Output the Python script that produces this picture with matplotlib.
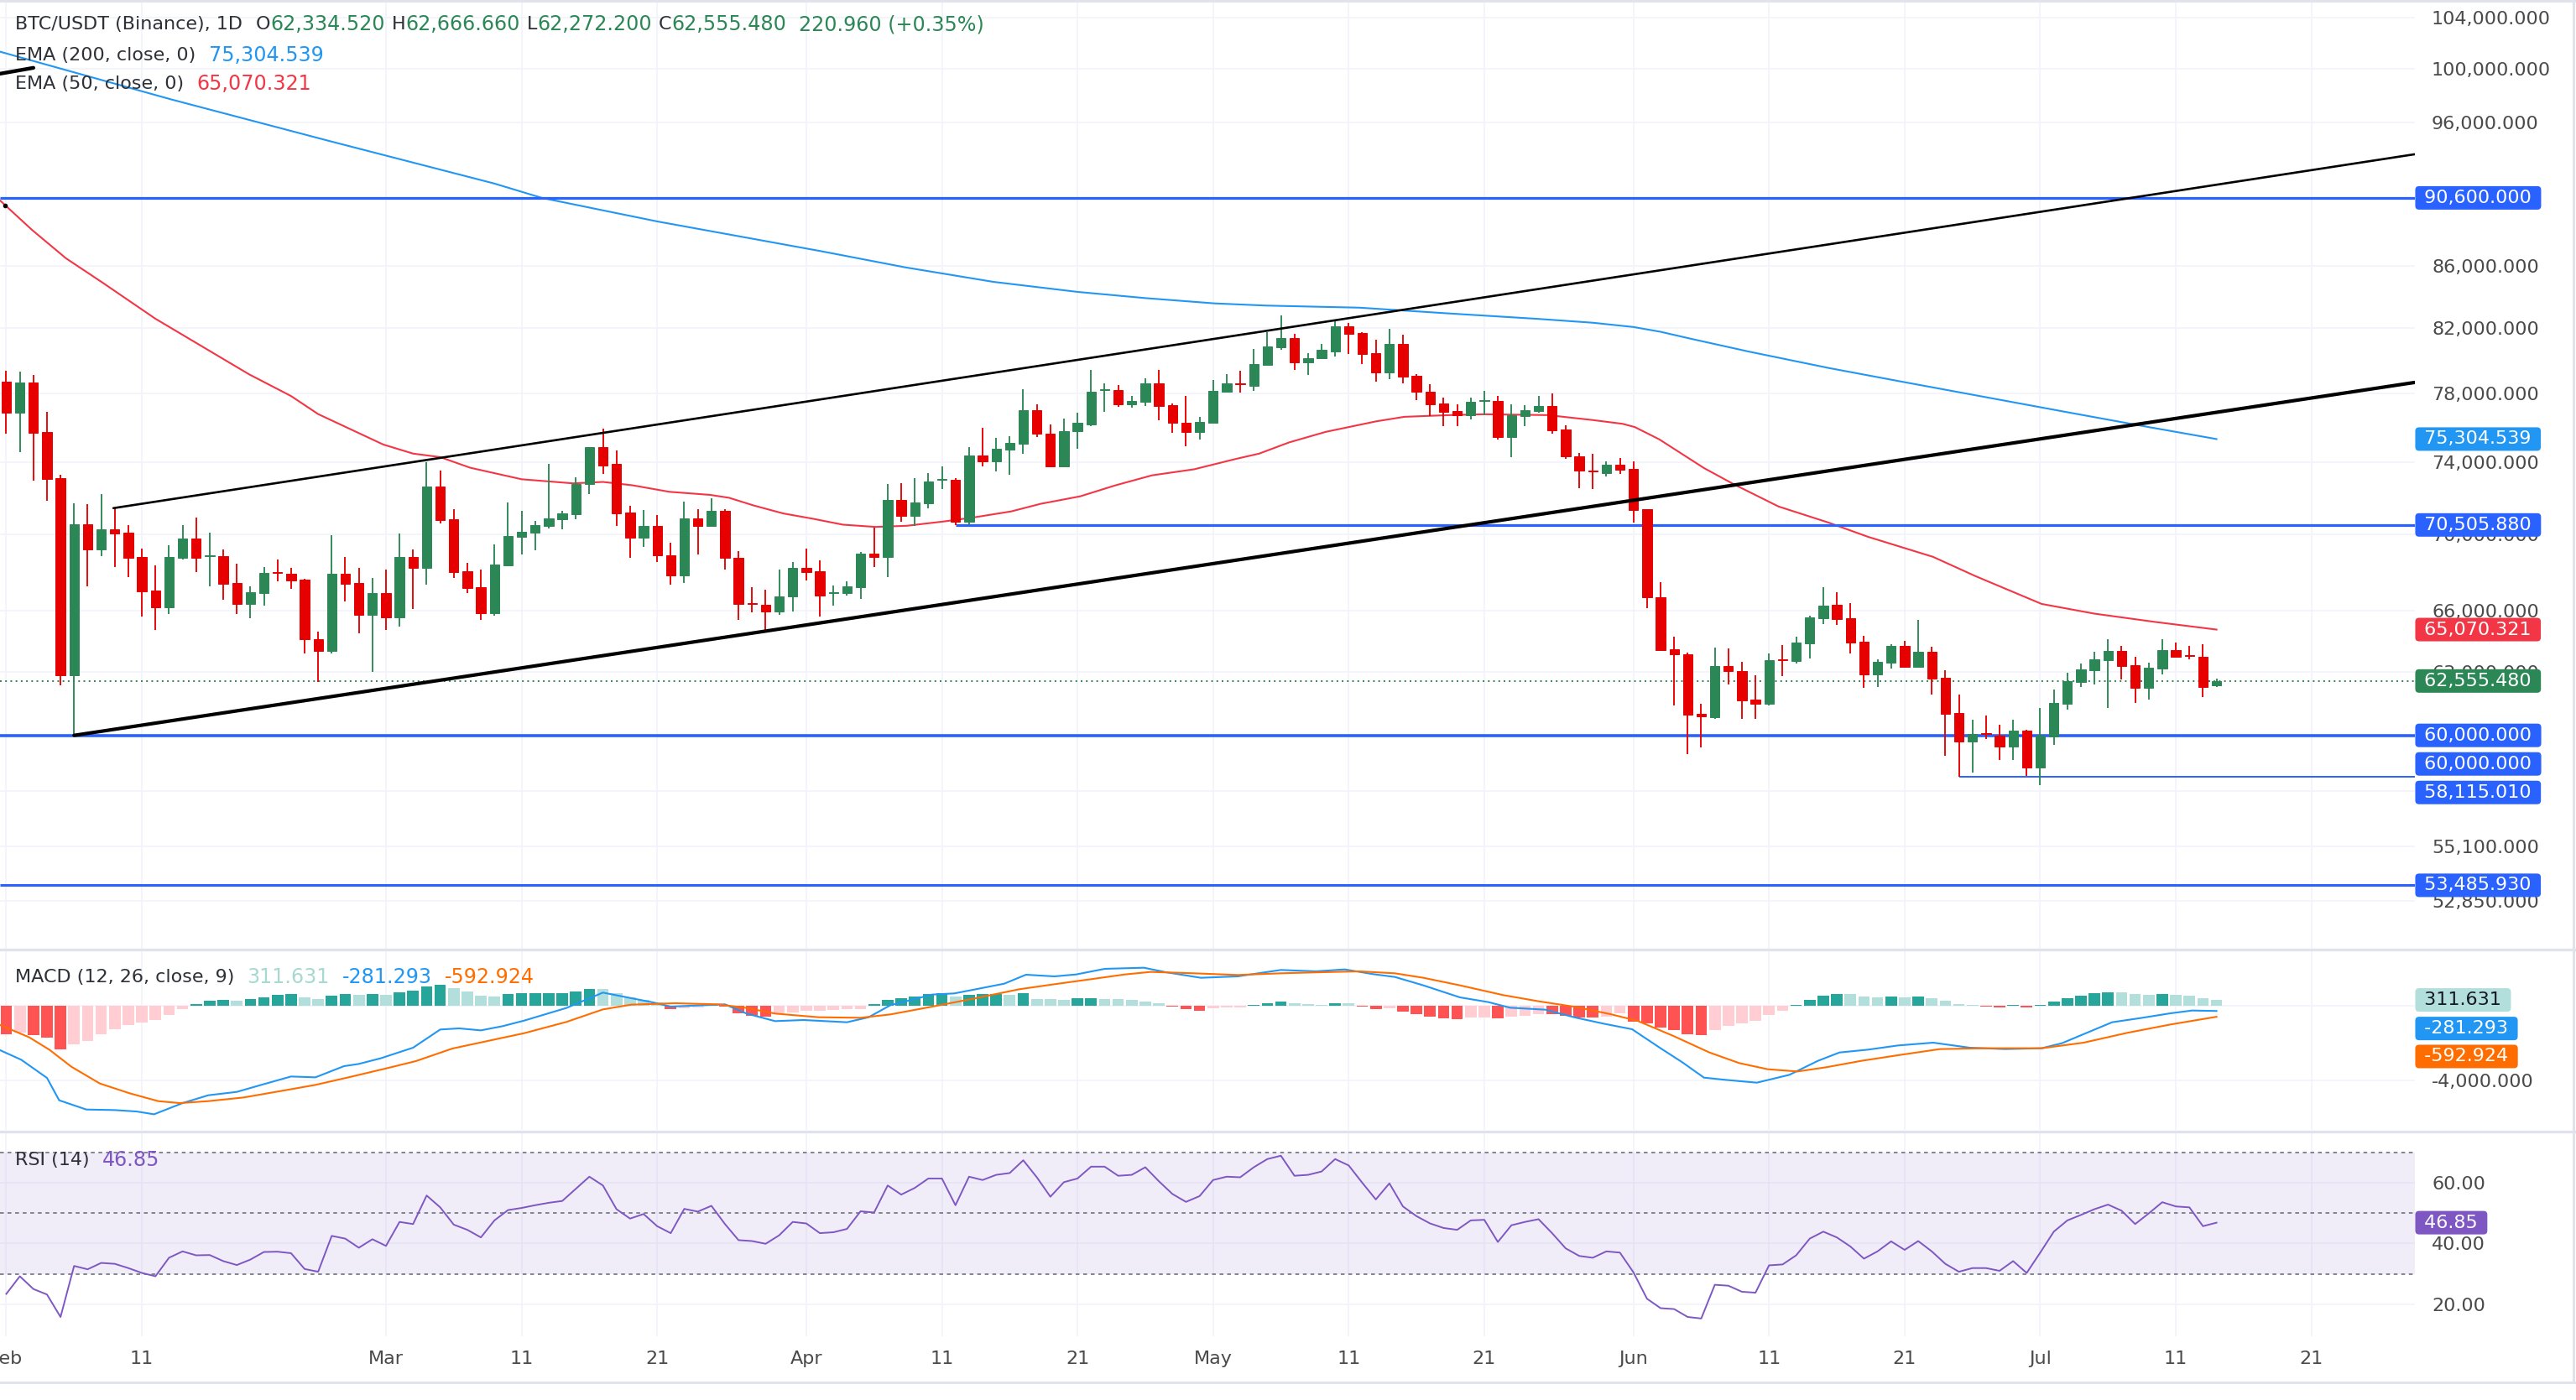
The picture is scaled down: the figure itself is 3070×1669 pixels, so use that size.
import numpy as np
import pandas as pd
import matplotlib
matplotlib.use("Agg")
import matplotlib.pyplot as plt
from matplotlib.lines import Line2D
from matplotlib.ticker import FixedLocator, FixedFormatter, NullFormatter, NullLocator

plt.rcParams['font.family'] = ['DejaVu Sans']

# ---------------- data ----------------
start_date = '2026-02-01'
opens = [78694, 76855, 78640, 75716, 73086, 62835, 70545, 69197, 70271, 70093,
         68801, 67054, 66212, 68754, 69771, 68830, 68848, 67440, 66378, 66931,
         68000, 67922, 67611, 64589, 63999, 67922, 67440, 65788, 66916, 65698,
         68801, 68234, 72616, 70820, 68046, 67223, 65894, 68360, 69883, 70094,
         70464, 70836, 71098, 72734, 74852, 73862, 71164, 69819, 70448, 68864,
         67816, 70869, 70464, 71278, 68738, 66424, 66303, 65970, 66726, 68218,
         68046, 66916, 66916, 67239, 68959, 68785, 71867, 71000, 71703, 72984,
         72984, 70674, 74372, 74032, 74714, 75059, 76997, 75625, 73726, 75747,
         76134, 78190, 78190, 77350, 77508, 78595, 77298, 76239, 75713, 76274,
         78100, 78595, 78455, 79732, 80820, 81378, 79878, 80099, 80560, 82112,
         81676, 80428, 79227, 81006, 79034, 78069, 77398, 76943, 76696, 77548,
         77513, 75423, 76657, 76943, 77226, 75853, 74337, 73518, 73371, 73827,
         73608, 71361, 66690, 64083, 63848, 61003, 60824, 63268, 63020, 61655,
         61459, 63610, 63513, 64400, 65645, 66320, 65643, 64469, 62887, 63444,
         64265, 63251, 63990, 62714, 61040, 59733, 60096, 59990, 59505, 60223,
         58554, 59963, 61487, 62526, 63090, 63577, 64014, 63305, 62243, 63170,
         64056, 63799, 63728, 62334.52]
highs = [79329, 79293, 79093, 76891, 73271, 71670, 71637, 72201, 71409, 70480,
         69245, 68360, 69405, 70497, 70902, 70093, 69197, 68439, 67270, 68266,
         68675, 68203, 67658, 64977, 69964, 68801, 68203, 67705, 68140, 70045,
         69197, 73981, 73506, 71360, 68486, 68124, 69468, 71737, 71278, 70723,
         73862, 71278, 73136, 74852, 75908, 74628, 71556, 71327, 71049, 69548,
         71785, 71360, 71965, 71360, 69100, 67223, 67085, 68156, 68518, 69226,
         68628, 67300, 67531, 69068, 70351, 72734, 72800, 73069, 73354, 73743,
         73069, 74852, 75956, 75369, 75455, 78243, 77332, 76134, 76484, 76822,
         79384, 78595, 78507, 77820, 78880, 79384, 77385, 77820, 76571, 78808,
         79143, 79366, 80708, 81713, 82811, 81639, 80412, 81024, 82433, 82339,
         81713, 81261, 81928, 81564, 79131, 78547, 77739, 77319, 77739, 78124,
         77839, 77319, 77265, 77839, 77969, 76098, 74498, 74460, 74046, 74227,
         74008, 71361, 67482, 64720, 63926, 61486, 64164, 64118, 63493, 62834,
         63881, 64320, 64720, 65758, 67236, 66964, 66406, 64762, 63604, 64343,
         64510, 65558, 64224, 63076, 61913, 60716, 60935, 60495, 60728, 60240,
         61278, 62152, 62955, 63403, 63973, 64594, 64265, 63728, 63444, 64594,
         64427, 64265, 64344, 62666.66]
lows = [75629, 74577, 72918, 71836, 62332, 60000, 67270, 68848, 68250, 67751,
        65743, 65067, 65834, 68675, 67984, 67285, 66593, 65834, 65637, 66257,
        67503, 67146, 63882, 62518, 63882, 66470, 64903, 63007, 65037, 65232,
        66121, 67363, 70593, 67705, 66916, 65561, 65774, 68300, 68943, 69165,
        70335, 70271, 70836, 72201, 73321, 70464, 68754, 69348, 68549, 67346,
        67424, 68911, 70400, 68124, 65546, 65924, 65022, 65818, 65970, 67547,
        65713, 66272, 66772, 66605, 68280, 67738, 70674, 70464, 71393, 72484,
        70506, 70512, 73743, 73456, 73289, 74474, 75403, 73700, 73690, 74766,
        76066, 76900, 77213, 77125, 77262, 76414, 75658, 74904, 75284, 76200,
        78020, 78020, 78136, 79700, 80653, 79401, 79089, 80050, 80228, 80375,
        79786, 78703, 78862, 78608, 77608, 76657, 76040, 76079, 76449, 76696,
        75294, 74246, 76079, 76850, 75628, 74190, 72528, 72477, 73191, 73338,
        70626, 66167, 64000, 61384, 59129, 59448, 60750, 62372, 60750, 60750,
        61400, 62802, 63390, 63660, 65327, 65307, 63906, 62231, 62271, 63170,
        63200, 63200, 61913, 59083, 58115, 58328, 59848, 58894, 58894, 58167,
        57767, 59570, 61212, 62271, 62404, 61290, 62634, 61525, 61684, 62887,
        63700, 63617, 61780, 62272.2]
closes = [76855, 78640, 75681, 73036, 62835, 70545, 69197, 70271, 70045, 68754,
          67008, 66212, 68801, 69771, 68770, 68880, 67409, 66378, 66962, 67969,
          67953, 67580, 64589, 63999, 67922, 67409, 65788, 66916, 65698, 68801,
          68234, 72616, 70787, 68015, 67193, 65894, 68408, 69915, 70142, 70496,
          70869, 71131, 72734, 74852, 73811, 71131, 69835, 70448, 68864, 67816,
          70869, 70464, 71278, 68738, 66348, 66348, 65970, 66726, 68218, 68015,
          66802, 66962, 67270, 68959, 68785, 71867, 71000, 71719, 72901, 73018,
          70674, 74372, 74032, 74748, 75093, 76997, 75625, 73726, 75782, 76239,
          78082, 78225, 77350, 77560, 78595, 77262, 76239, 75713, 76292, 78136,
          78595, 78525, 79768, 80838, 81378, 79878, 80136, 80615, 82112, 81639,
          80375, 79227, 81006, 78993, 78069, 77359, 76884, 76696, 77493, 77588,
          75423, 76696, 76978, 77226, 75814, 74318, 73518, 73460, 73827, 73556,
          71325, 66690, 64045, 63848, 60973, 60882, 63268, 63020, 61640, 61459,
          63570, 63570, 64428, 65678, 66295, 65613, 64440, 62887, 63484, 64265,
          63251, 63990, 62686, 61013, 59722, 60069, 60057, 59505, 60223, 58554,
          59990, 61515, 62554, 63118, 63604, 64014, 63291, 62243, 63198, 64056,
          63741, 63758, 62271, 62555.48]

# EMA lines (day offset from start_date, price)
ema200_day = [-0.46, 12.1, 23.8, 36, 39.5, 48, 60.1, 66.3, 72.8, 79, 84, 89.1, 92.9, 99.8,
              106.4, 113, 117, 120, 122, 124.1, 128.5, 134.4, 140, 146, 152, 158, 163]
ema200_val = [101345, 97722, 94645, 91600, 90600, 88980, 86970, 85900, 84950, 84300, 83900,
              83560, 83420, 83286, 82918, 82571, 82330, 82060, 81760, 81350, 80530, 79522,
              78660, 77760, 76870, 76000, 75304.539]
ema50_day = [-0.46, 1.9, 4.4, 7.1, 11.0, 17.9, 21.0, 23.0, 27.8, 30.0, 32.0, 34.2,
             38, 41.8, 44, 46.2, 48.9, 51.9, 53.3, 55.1, 57.3, 59.5,
             61.7, 64.1, 66.4, 69.2, 71.4, 74.1, 76.3, 79.2, 81.8, 84.5,
             87.6, 90.7, 92.4, 94.6, 97.3, 101, 103.1, 106.4, 109, 113.7,
             117, 119.2, 120.1, 121.9, 125.2, 127.4, 130.7, 134.4, 137.3, 142.1,
             145.2, 150.1, 154, 158.5, 163]
ema50_val = [90420, 88400, 86500, 84900, 82582, 79140, 77830, 76760, 74990, 74470, 74270, 73670,
             73020, 72790, 72870, 72680, 72320, 72150, 71990, 71570, 71130, 70840,
             70520, 70400, 70460, 70700, 70920, 71240, 71660, 72070, 72680, 73240,
             73580, 74170, 74470, 75110, 75720, 76330, 76600, 76700, 76750, 76700,
             76410, 76190, 76000, 75290, 73650, 72740, 71510, 70630, 69867, 68800,
             67800, 66363, 65870, 65450, 65070.321]

# horizontal levels: price, first date (None = whole width)
level_price = [90600.0, 70505.88, 60000.0, 58115.01, 53485.93]
level_from = [None, '2026-04-12', None, '2026-06-25', None]

# trend lines: (day, price) pairs
upper_line_day = [7.9, 177.6]
upper_line_val = [71420, 93680]
lower_line_day = [5.0, 177.6]
lower_line_val = [60000, 78644]
stub_line_day = [-0.46, 2.0]
stub_line_val = [99650, 100100]

last_price = 62555.48

# MACD
macd_hist = [-1519, -1460, -1580, -1700, -2330, -2060, -1880, -1520, -1280, -1020,
             -890, -770, -500, -165, 75, 255, 315, 285, 360, 450,
             600, 630, 450, 375, 540, 615, 600, 630, 585, 735,
             795, 1040, 1130, 950, 750, 520, 510, 615, 680, 685,
             690, 695, 750, 900, 885, 660, 465, 330, 165, -200,
             -120, -90, 100, -60, -420, -530, -570, -420, -345, -285,
             -255, -240, -195, -165, 75, 330, 405, 510, 630, 660,
             510, 600, 630, 640, 600, 690, 360, 355, 315, 420,
             425, 345, 340, 300, 240, 150, -60, -190, -280, -150,
             -110, -70, 45, 150, 225, 135, 90, 45, 150, 135,
             -30, -165, -150, -300, -450, -570, -660, -705, -645, -615,
             -660, -600, -525, -435, -470, -555, -615, -630, -570, -420,
             -870, -930, -1170, -1320, -1515, -1575, -1290, -1065, -945, -795,
             -480, -255, 45, 330, 540, 630, 615, 495, 450, 495,
             450, 495, 405, 270, 90, 45, -45, -90, 45, -90,
             45, 225, 405, 540, 675, 735, 720, 630, 585, 630,
             585, 540, 405, 311.631]
macd_day = [-0.5, 1.1, 3, 3.9, 5.9, 8, 9.6, 10.9, 13, 14.9, 17, 18.8, 21, 22.8, 24.9, 26,
            27.6, 30, 32, 33.4, 35, 36.6, 38.2, 41.3, 44, 46.1, 47.7, 49, 50.9, 53, 54.6,
            56.7, 58.8, 62, 63.6, 65.2, 68.3, 69.9, 71.5, 73.6, 75.2, 77.3, 78.9, 81,
            83.9, 85.5, 88.1, 90.8, 94, 96.6, 98.7, 100.8, 102.4, 104.5, 107.2, 109.3,
            110.9, 113.5, 115.7, 117.8, 119.9, 122, 123.6, 125.2, 126.8, 129.1, 131.5,
            133.6, 135.2, 137.3, 139.5, 142.1, 144.8, 147.4, 150.1, 151.6, 155.3, 157.4,
            159.6, 161.2, 163]
macd_val = [-2376, -2903, -3880, -5084, -5580, -5610, -5685, -5836, -5234, -4813, -4632,
            -4256, -3805, -3850, -3249, -3128, -2828, -2256, -1278, -1218, -1324, -1098,
            -797, -120, 707, 406, 180, -45, 15, 75, -421, -827, -767, -887, -617, 30, 602,
            662, 887, 1188, 1669, 1579, 1684, 1985,
            2045, 1805, 1504, 1579, 1925, 1850, 1955, 1700, 1549, 1098, 451, 196, -105,
            -211, -632, -963, -1263, -2286, -3038, -3865, -3986, -4136, -3715, -2963,
            -2512, -2361, -2136, -1985, -2256, -2331, -2286, -2015, -887, -662, -406,
            -256, -281.293]
signal_day = [-0.5, 1.7, 3.2, 4.8, 6.9, 9.1, 11.2, 12.8, 14.9, 17.5, 20.7, 22.8, 25.5,
              28.1, 30.2, 32.9, 35.5, 38.2, 41.3, 44, 46.1, 49.3, 52.5, 54.6, 56.7, 59.9,
              63, 65.2, 68.3, 71.5, 74.7, 77.3, 80, 82.5, 84.4, 87.6, 90.8, 94, 97.1, 99.8,
              102.4, 104.5, 107.2, 110.4, 113, 115.7, 118.3, 120.3, 122.9, 125.6, 127.8,
              129.9, 132.1, 134.2, 136.8, 139.5, 142.6, 145.8, 150.1, 153.2, 156.4, 159.6,
              163]
signal_val = [-1023, -1700, -2376, -3279, -4181, -4708, -5129, -5234, -5129, -4933,
              -4527, -4256, -3805, -3354, -2978, -2301, -1895, -1474, -872, -196, 60, 135,
              75, -120, -421, -617, -647, -466, -45, 406, 887, 1158, 1429, 1684, 1820,
              1745, 1654, 1745, 1805, 1850, 1745, 1504, 1098, 572, 241, -60, -451, -812,
              -1609, -2512, -3083, -3414, -3534, -3309, -2963, -2662, -2331, -2286, -2286,
              -1985, -1459, -1008, -592.924]

# RSI (14), one value per candle
rsi = [23.4, 29.2, 25.0, 23.2, 15.8, 32.6, 31.5, 33.6, 33.3, 31.9,
       30.3, 29.2, 35.3, 37.4, 36.1, 36.2, 34.2, 32.9, 34.7, 37.2,
       37.3, 36.8, 31.6, 30.7, 42.5, 41.6, 38.6, 41.4, 39.2, 47.1,
       46.4, 55.8, 51.9, 46.2, 44.5, 42.0, 47.6, 51.0, 51.7, 52.6,
       53.4, 54.0, 58.0, 62.0, 59.1, 51.3, 48.2, 49.7, 45.7, 43.4,
       51.4, 50.5, 52.4, 46.4, 41.1, 40.8, 39.9, 42.7, 47.1, 46.6,
       43.4, 43.7, 44.8, 50.6, 50.2, 59.1, 56.1, 58.3, 61.4, 61.4,
       52.6, 62.0, 60.9, 62.6, 63.2, 67.4, 61.8, 55.4, 60.2, 61.4,
       65.3, 65.3, 62.3, 62.6, 65.1, 60.5, 56.3, 53.7, 55.6, 60.9,
       62.0, 61.8, 65.1, 67.8, 68.9, 62.3, 62.6, 63.7, 67.8, 65.7,
       60.0, 54.5, 59.8, 52.2, 49.0, 46.6, 45.1, 44.5, 47.6, 47.8,
       40.5, 46.0, 47.1, 48.0, 43.4, 38.4, 35.9, 35.3, 37.4, 37.0,
       30.5, 21.8, 18.7, 18.4, 15.8, 15.3, 26.4, 26.1, 24.1, 23.8,
       32.8, 33.1, 36.1, 41.6, 43.9, 42.0, 39.0, 35.0, 37.4, 40.7,
       37.9, 40.8, 37.4, 33.3, 30.7, 31.9, 31.9, 31.0, 34.2, 30.3,
       37.0, 43.9, 47.6, 49.4, 51.3, 52.8, 50.8, 46.4, 49.9, 53.6,
       52.2, 51.9, 45.7, 46.85]

price_ticks = [104000, 100000, 96000, 86000, 82000, 78000, 74000, 70000, 66000,
               63000, 57500, 55100, 52850]
price_tick_labels = ['104,000.000', '100,000.000', '96,000.000', '86,000.000',
                     '82,000.000', '78,000.000', '74,000.000', '70,000.000',
                     '66,000.000', '63,000.000', '', '55,100.000', '52,850.000']
date_ticks = ['2026-02-01', '2026-02-11', '2026-03-01', '2026-03-11', '2026-03-21',
              '2026-04-01', '2026-04-11', '2026-04-21', '2026-05-01', '2026-05-11',
              '2026-05-21', '2026-06-01', '2026-06-11', '2026-06-21', '2026-07-01',
              '2026-07-11', '2026-07-21']
date_tick_labels = ['Feb', '11', 'Mar', '11', '21', 'Apr', '11', '21', 'May', '11',
                    '21', 'Jun', '11', '21', 'Jul', '11', '21']

# ---------------- styling ----------------
GREEN = '#2C8756'
RED = '#E60000'
BLUE_LVL = '#2962FF'
EMA200_C = '#2196F3'
EMA50_C = '#F23645'
GRID = '#F0F3FA'
TXT = '#2E3138'
AXTXT = '#4A4A4A'
FS = 16
FS_NUM = 17.2

W, H = 3070, 1669
PLOT_RIGHT = 2878
fig = plt.figure(figsize=(W / 100, H / 100), dpi=100)
fig.patch.set_facecolor('white')


def frame(top, bottom):
    return [0, 1 - bottom / H, PLOT_RIGHT / W, (bottom - top) / H]


ax = fig.add_axes(frame(3, 1131))
axm = fig.add_axes(frame(1133, 1347))
axr = fig.add_axes(frame(1351, 1593))

start = pd.Timestamp(start_date)
dates = pd.date_range(start, periods=len(closes), freq='D')
day = np.array((dates - start).days, dtype=float)
tick_days = [(pd.Timestamp(s) - start).days for s in date_ticks]

XMIN, XMAX = -0.464, 177.63
for a in (ax, axm, axr):
    a.set_xlim(XMIN, XMAX)
    a.set_facecolor('none')
    for s in a.spines.values():
        s.set_visible(False)
    a.xaxis.set_major_locator(FixedLocator(tick_days))
    a.tick_params(axis='both', length=0, labelsize=FS, colors=AXTXT)
    a.grid(True, which='major', color=GRID, lw=1.1, zorder=0)
    a.set_axisbelow(True)
    a.yaxis.tick_right()
    a.tick_params(axis='y', pad=14.4)

ax.tick_params(axis='x', labelbottom=False)
axm.tick_params(axis='x', labelbottom=False)
axr.xaxis.set_major_formatter(FixedFormatter(date_tick_labels))
axr.tick_params(axis='x', pad=12)

# ---------------- main price panel ----------------
ax.set_yscale('log')
ax.set_ylim(50947, 105240)
ax.yaxis.set_major_locator(FixedLocator(price_ticks))
ax.yaxis.set_major_formatter(FixedFormatter(price_tick_labels))
ax.yaxis.set_minor_locator(NullLocator())
ax.yaxis.set_minor_formatter(NullFormatter())

o = np.array(opens, float); h = np.array(highs, float)
l = np.array(lows, float); c = np.array(closes, float)
col = np.where(c >= o, GREEN, RED)
ax.vlines(day, l, h, colors=col, lw=1.35, zorder=4)
ax.bar(day, np.abs(c - o), bottom=np.minimum(o, c), width=0.7, color=col,
       edgecolor=col, linewidth=0.7, zorder=5)

ax.plot(ema200_day, ema200_val, color=EMA200_C, lw=1.5, zorder=3)
ax.plot(ema50_day, ema50_val, color=EMA50_C, lw=1.5, zorder=3)

level_lw = [2.3, 2.3, 2.6, 1.4, 2.2]
for p, f, lw in zip(level_price, level_from, level_lw):
    x0 = XMIN if f is None else (pd.Timestamp(f) - start).days
    ax.hlines(p, x0, XMAX, color=BLUE_LVL, lw=lw, zorder=3)

ax.axhline(last_price, color=GREEN, lw=1.4, ls=(0, (1, 2.2)), zorder=2)

ax.plot(upper_line_day, upper_line_val, color='black', lw=1.9, zorder=6,
        solid_capstyle='round')
ax.plot(lower_line_day, lower_line_val, color='black', lw=3.0, zorder=6,
        solid_capstyle='round')
ax.plot(stub_line_day, stub_line_val, color='black', lw=3.2, zorder=6,
        solid_capstyle='round', clip_on=True)
ax.plot([-0.1], [90070], marker='o', ms=3, color='black', zorder=6)


def tag(a, y, text, fc, tc='white', dy=0):
    a.annotate(' ' + text + ' ', xy=(1, y), xycoords=('axes fraction', 'data'),
               xytext=(3.2, dy), textcoords='offset points', ha='left', va='center',
               fontsize=FS, color=tc, annotation_clip=False, zorder=30,
               bbox=dict(boxstyle='round,pad=0.18,rounding_size=0.2', fc=fc, ec='none'))


tag(ax, 90600, '90,600.000', BLUE_LVL)
tag(ax, 75304.539, '75,304.539', EMA200_C)
tag(ax, 70505.88, '70,505.880', BLUE_LVL)
tag(ax, 65070.321, '65,070.321', EMA50_C)
tag(ax, last_price, '62,555.480', GREEN)
tag(ax, 60000, '60,000.000', BLUE_LVL)
tag(ax, 60000, '60,000.000', BLUE_LVL, dy=-24.5)
tag(ax, 60000, '58,115.010', BLUE_LVL, dy=-49)
tag(ax, 53485.93, '53,485.930', BLUE_LVL)

# ---------------- MACD panel ----------------
hist = np.array(macd_hist, float)
prev = np.r_[hist[0], hist[:-1]]
hcol = np.where(hist >= 0, np.where(hist >= prev, '#26A69A', '#B2DFDB'),
                np.where(hist <= prev, '#FF5252', '#FFCDD2'))
axm.bar(day, hist, width=0.85, color=hcol, zorder=2)
axm.plot(macd_day, macd_val, color='#2196F3', lw=1.5, zorder=3)
axm.plot(signal_day, signal_val, color='#FF6D00', lw=1.5, zorder=3)
axm.set_ylim(-6676, 2977)
axm.yaxis.set_major_locator(FixedLocator([0, -4000]))
axm.yaxis.set_major_formatter(FixedFormatter(['', '-4,000.000']))
tag(axm, 311.631, '311.631', '#B2DFDB', tc='#131722')
tag(axm, 311.631, '-281.293', '#2196F3', dy=-24.5)
tag(axm, 311.631, '-592.924', '#FF6D00', dy=-48.5)

# ---------------- RSI panel ----------------
axr.axhspan(30, 70, color='#7E57C2', alpha=0.1, lw=0, zorder=1)
for lv in (70, 50, 30):
    axr.axhline(lv, color='#787B86', lw=1.3, ls=(0, (2.5, 2.5)), zorder=2)
axr.plot(day, rsi, color='#7E57C2', lw=1.4, zorder=3)
axr.set_ylim(9.45, 76.3)
axr.yaxis.set_major_locator(FixedLocator([20, 40, 60]))
axr.yaxis.set_major_formatter(FixedFormatter(['20.00', '40.00', '60.00']))
tag(axr, 46.85, '46.85', '#7E57C2')

# ---------------- legends ----------------


def legend_line(host, x_px, y_px, parts):
    first, color0 = parts[0][0], parts[0][1]
    prev_t = host.annotate(first, xy=(x_px / W, 1 - y_px / H), xycoords='figure fraction',
                           ha='left', va='center', fontsize=FS, color=color0,
                           annotation_clip=False, zorder=40)
    for text, color, gap, size in parts[1:]:
        prev_t = host.annotate(text, xy=(1, 0.5), xycoords=prev_t, xytext=(gap, 0),
                               textcoords='offset points', ha='left', va='center',
                               fontsize=size, color=color, annotation_clip=False, zorder=40)


legend_line(ax, 17.5, 29, [('BTC/USDT (Binance), 1D', TXT),
                           ('O', TXT, 11.5, FS), ('62,334.520', GREEN, 0, FS_NUM),
                           ('H', TXT, 5.8, FS), ('62,666.660', GREEN, 0, FS_NUM),
                           ('L', TXT, 5.8, FS), ('62,272.200', GREEN, 0, FS_NUM),
                           ('C', TXT, 5.8, FS), ('62,555.480', GREEN, 0, FS_NUM),
                           ('220.960 (+0.35%)', GREEN, 11, FS_NUM)])
legend_line(ax, 17.5, 66, [('EMA (200, close, 0)', TXT),
                           ('75,304.539', EMA200_C, 11.5, FS_NUM)])
legend_line(ax, 17.5, 100, [('EMA (50, close, 0)', TXT),
                            ('65,070.321', EMA50_C, 11.5, FS_NUM)])
legend_line(axm, 17.5, 1165, [('MACD (12, 26, close, 9)', TXT),
                              ('311.631', '#A6D9D0', 11, FS_NUM),
                              ('-281.293', '#2196F3', 11, FS_NUM),
                              ('-592.924', '#FF6D00', 11, FS_NUM)])
legend_line(axr, 17.5, 1383, [('RSI (14)', TXT), ('46.85', '#7E57C2', 11, FS_NUM)])

# ---------------- separators / borders ----------------
SEP = '#E0E3EB'
for yy, lw in ((1.5, 2.2), (1132, 2.4), (1349, 2.4), (1648, 2.2)):
    fig.add_artist(Line2D([0, 1], [1 - yy / H] * 2, transform=fig.transFigure,
                          color=SEP, lw=lw, zorder=50))
fig.add_artist(Line2D([3066.5 / W] * 2, [1 - 1648 / H, 1], transform=fig.transFigure,
                      color=SEP, lw=2.2, zorder=50))

fig.savefig('out.png', dpi=100, facecolor='white')
